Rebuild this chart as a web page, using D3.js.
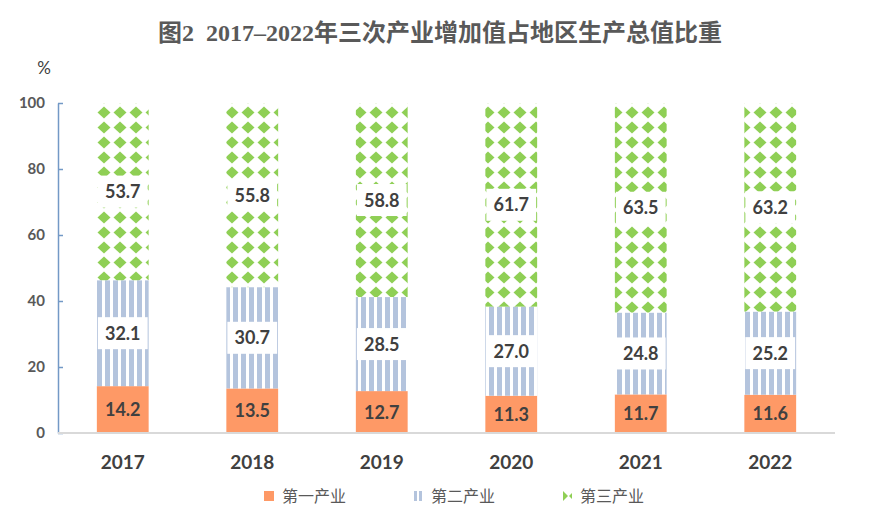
<html>
<head>
<meta charset="utf-8">
<script src="https://d3js.org/d3.v7.min.js"></script>
<style>
body { margin: 0; background: #fff; }
svg { display: block; }
.axis path { stroke: #7399c6; stroke-width: 1.5; }
.axis line { stroke: #7399c6; stroke-width: 1.5; }
.axis text { font-family: Lato, "Open Sans", sans-serif; font-weight: bold; font-size: 15px; fill: #595959; }
.xlab { font-family: Lato, "Open Sans", sans-serif; font-weight: bold; font-size: 19px; fill: #404040; }
.val { font-family: Lato, "Open Sans", sans-serif; font-weight: bold; font-size: 18px; fill: #404040; }
.legend text { font-family: "Noto Sans CJK SC", sans-serif; font-size: 16px; fill: #595959; }
</style>
</head>
<body>
<div id="chart"></div>
<script>
var years = ["2017", "2018", "2019", "2020", "2021", "2022"];
var primary = [14.2, 13.5, 12.7, 11.3, 11.7, 11.6];
var secondary = [32.1, 30.7, 28.5, 27.0, 24.8, 25.2];
var tertiary = [53.7, 55.8, 58.8, 61.7, 63.5, 63.2];
var seriesNames = ["第一产业", "第二产业", "第三产业"];
var yTicks = [0, 20, 40, 60, 80, 100];

var width = 876, height = 524;
var margin = { left: 58, right: 41, top: 103, bottom: 91 };

var svg = d3.select("#chart").append("svg")
  .attr("width", width).attr("height", height);

// fill patterns
var defs = svg.append("defs");

var stripes = defs.append("pattern").attr("id", "stripes")
  .attr("patternUnits", "userSpaceOnUse")
  .attr("width", 8).attr("height", 8);
stripes.append("rect").attr("width", 8).attr("height", 8).attr("fill", "#fff");
stripes.append("rect").attr("x", 1).attr("width", 5).attr("height", 8).attr("fill", "#b4c4dd");

var diamonds = defs.append("pattern").attr("id", "diamonds")
  .attr("patternUnits", "userSpaceOnUse")
  .attr("width", 16).attr("height", 15);
diamonds.append("rect").attr("width", 16).attr("height", 15).attr("fill", "#fff");
diamonds.append("path").attr("d", "M8,1.5 L14.5,7.5 L8,13.5 L1.5,7.5 Z").attr("fill", "#8fcf55");

var fills = ["#fe9966", "url(#stripes)", "url(#diamonds)"];

var x = d3.scaleBand().domain(years)
  .range([margin.left, width - margin.right])
  .paddingInner(0.6).paddingOuter(0.3);
var y = d3.scaleLinear().domain([0, 100])
  .range([height - margin.bottom, margin.top]);

// title
svg.append("text")
  .attr("x", 440).attr("y", 41)
  .attr("text-anchor", "middle")
  .style("white-space", "pre")
  .style("font-family", "'Liberation Serif', 'Noto Sans CJK SC', serif")
  .style("font-weight", "bold")
  .style("font-size", "24px")
  .style("fill", "#595959")
  .text("图2  2017–2022年三次产业增加值占地区生产总值比重");

svg.append("text")
  .attr("x", 44).attr("y", 74)
  .attr("text-anchor", "middle")
  .style("font-family", "Lato, sans-serif")
  .style("font-size", "17px")
  .style("fill", "#404040")
  .text("%");

// y axis, ticks pointing inward
var yAxis = d3.axisLeft(y).tickValues(yTicks).tickSize(-5).tickPadding(13).tickSizeOuter(0);
svg.append("g").attr("class", "axis")
  .attr("transform", "translate(" + margin.left + ",0)")
  .call(yAxis);

// stacked data
var rows = years.map(function (yr, i) {
  return { year: yr, values: [primary[i], secondary[i], tertiary[i]] };
});

rows.forEach(function (row) {
  var base = 0;
  row.values.forEach(function (v, k) {
    var g = svg.append("g");
    g.append("rect")
      .attr("x", x(row.year))
      .attr("width", x.bandwidth())
      .attr("y", y(base + v))
      .attr("height", y(base) - y(base + v))
      .attr("fill", fills[k]);
    var mid = y(base + v / 2);
    if (k > 0) {
      g.append("rect")
        .attr("x", x(row.year) + 1)
        .attr("width", x.bandwidth() - 2)
        .attr("y", mid - 16)
        .attr("height", 32)
        .attr("fill", "#fff");
    }
    g.append("text").attr("class", "val")
      .attr("x", x(row.year) + x.bandwidth() / 2)
      .attr("y", mid + 6.5)
      .attr("text-anchor", "middle")
      .text(v.toFixed(1));
    base += v;
  });
});

// baseline
svg.append("line")
  .attr("x1", margin.left).attr("x2", width - margin.right)
  .attr("y1", y(0)).attr("y2", y(0))
  .attr("stroke", "#d9d9d9").attr("stroke-width", 2);

svg.selectAll("text.xlab").data(years).enter().append("text")
  .attr("class", "xlab")
  .attr("x", function (d) { return x(d) + x.bandwidth() / 2; })
  .attr("y", 469)
  .attr("text-anchor", "middle")
  .text(function (d) { return d; });

// legend
var legendX = [264, 413, 562];
var legend = svg.append("g").attr("class", "legend");
seriesNames.forEach(function (name, k) {
  var lg = legend.append("g").attr("transform", "translate(" + legendX[k] + ",491)");
  if (k == 0) {
    lg.append("rect").attr("width", 10).attr("height", 10).attr("fill", fills[0]);
  } else if (k == 1) {
    lg.append("rect").attr("x", 1).attr("width", 3).attr("height", 10).attr("fill", "#b4c4dd");
    lg.append("rect").attr("x", 6).attr("width", 3).attr("height", 10).attr("fill", "#b4c4dd");
  } else {
    lg.append("path").attr("d", "M1,0 L6,5 L1,10 Z").attr("fill", "#8fcf55");
    lg.append("path").attr("d", "M10,2 L7,5 L10,8 Z").attr("fill", "#8fcf55");
  }
  lg.append("text").attr("x", 18).attr("y", 11).text(name);
});
</script>
</body>
</html>
